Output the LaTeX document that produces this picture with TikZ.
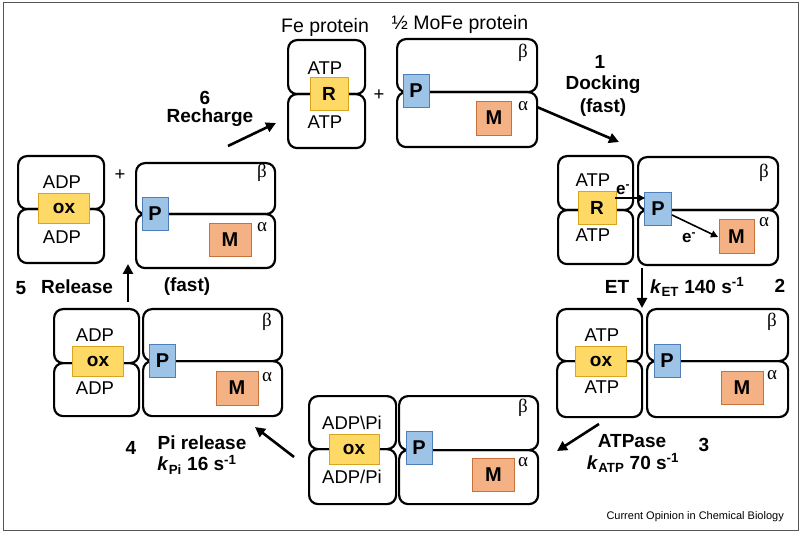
\documentclass[tikz,border=0pt]{standalone}
\usepackage{fontspec}
\setmainfont{Liberation Sans}
\newfontfamily\greekfont{Liberation Serif}
\usetikzlibrary{arrows.meta}
\definecolor{yfill}{HTML}{FFD966}
\definecolor{ydraw}{HTML}{D9A520}
\definecolor{bfill}{HTML}{9DC3E6}
\definecolor{bdraw}{HTML}{4F7FB8}
\definecolor{ofill}{HTML}{F4B183}
\definecolor{odraw}{HTML}{C8703A}
\definecolor{framegray}{HTML}{555555}
\newcommand\protbox[5]{\node[half,minimum width=#4pt,minimum height=#5pt] (#1) at (#2,#3) {};}
\newcommand\cofac[7]{\node[#2,minimum width=#5pt,minimum height=#6pt] (#1) at (#3,#4) {#7};}
\begin{document}
\begin{tikzpicture}[x=1pt,y=-1pt,
  half/.style={draw,line width=2.2pt,rounded corners=9pt,anchor=north west,inner sep=0pt},
  ybox/.style={draw=ydraw,fill=yfill,line width=0.9pt,inner sep=0pt,font=\fontsize{19}{20}\selectfont\bfseries},
  bbox/.style={draw=bdraw,fill=bfill,line width=0.9pt,inner sep=0pt,font=\fontsize{20}{20}\selectfont\bfseries},
  obox/.style={draw=odraw,fill=ofill,line width=0.9pt,inner sep=0pt,font=\fontsize{20}{20}\selectfont\bfseries},
  lab/.style={inner sep=0pt,font=\fontsize{18.5}{20}\selectfont},
  tlab/.style={inner sep=0pt,font=\fontsize{19.5}{21}\selectfont},
  blab/.style={inner sep=0pt,font=\fontsize{19}{21}\selectfont\bfseries},
  glab/.style={inner sep=0pt,font=\fontsize{19}{20}\selectfont\greekfont},
  bigarrow/.style={line width=2.6pt,-{Triangle[length=10pt,width=10pt]}},
  earrow/.style={line width=1.6pt,-{Triangle[length=7pt,width=7pt]}}]
\useasboundingbox (0,0) rectangle (800,534);
\node[draw=framegray,line width=1.4pt,minimum width=795pt,minimum height=528pt,anchor=north west,inner sep=0pt] (frame) at (3,2) {};

% ---------- top complex (Fe protein + 1/2 MoFe) ----------
\node[tlab] (tFe) at (325,27) {Fe protein};
\node[tlab] (tMo) at (460,24) {½ MoFe protein};
\protbox{aFeU}{287}{39}{77}{54}
\protbox{aFeL}{287}{93}{77}{54}
\node[lab] (aT1) at (325,68) {ATP};
\node[lab] (aT2) at (325,122) {ATP};
\cofac{aR}{ybox}{329}{94}{38}{33}{R}
\node[lab] (aplus) at (379,95) {+};
\protbox{aMoU}{396}{38}{140}{53}
\protbox{aMoL}{396}{91}{140}{55}
\cofac{aP}{bbox}{416}{91}{26}{33}{P}
\cofac{aM}{obox}{494}{118}{35}{34}{M}
\node[glab] (ab) at (523,53) {β};
\node[glab] (aa) at (523,106) {α};

% ---------- docking complex ----------
\protbox{bFeU}{557}{155}{75}{54}
\protbox{bFeL}{557}{209}{75}{54}
\node[lab] (bT1) at (593,180) {ATP};
\node[lab] (bT2) at (593,235) {ATP};
\cofac{bR}{ybox}{597}{208}{38}{33}{R}
\protbox{bMoU}{637}{156}{140}{53}
\protbox{bMoL}{637}{209}{140}{55}
\cofac{bP}{bbox}{658}{209}{27}{33}{P}
\cofac{bM}{obox}{736.5}{236.5}{35}{34}{M}
\node[glab] (bb) at (764,173) {β};
\node[glab] (ba) at (764,222) {α};
\coordinate (e1s) at (615,198);
\coordinate (e1e) at (645,198);
\coordinate (e2s) at (672,215);
\coordinate (e2e) at (718,237);
\draw[earrow] (e1s) -- (e1e);
\draw[earrow] (e2s) -- (e2e);
\node[blab,font=\fontsize{17}{18}\selectfont\bfseries] (e1l) at (623,190) {e\textsuperscript{-}};
\node[blab,font=\fontsize{17}{18}\selectfont\bfseries] (e2l) at (689,238) {e\textsuperscript{-}};

% ---------- left complex (after release) ----------
\protbox{cFeU}{17}{155}{86}{53}
\protbox{cFeL}{17}{208}{86}{54}
\node[lab] (cT1) at (62,182) {ADP};
\node[lab] (cT2) at (62,237) {ADP};
\cofac{cR}{ybox}{64}{208}{51}{30}{ox}
\node[lab] (cplus) at (120,175) {+};
\protbox{cMoU}{135}{162}{139}{51}
\protbox{cMoL}{135}{213}{139}{54}
\cofac{cP}{bbox}{155}{214}{26}{33}{P}
\cofac{cM}{obox}{230}{240}{42}{33}{M}
\node[glab] (cb) at (262,173) {β};
\node[glab] (ca) at (262,227) {α};

% ---------- middle-left complex ----------
\protbox{dFeU}{53}{308}{85}{54}
\protbox{dFeL}{53}{362}{85}{53}
\node[lab] (dT1) at (95,335) {ADP};
\node[lab] (dT2) at (95,388) {ADP};
\cofac{dR}{ybox}{98}{361}{51}{30}{ox}
\protbox{dMoU}{142}{308}{139}{52}
\protbox{dMoL}{142}{360}{139}{55}
\cofac{dP}{bbox}{162.5}{361}{26}{33}{P}
\cofac{dM}{obox}{237}{388}{42}{34}{M}
\node[glab] (db) at (267,322) {β};
\node[glab] (da) at (267,377) {α};

% ---------- right-middle complex ----------
\protbox{eFeU}{556}{308}{85}{52}
\protbox{eFeL}{556}{360}{85}{56}
\node[lab] (eT1) at (602,335) {ATP};
\node[lab] (eT2) at (602,387) {ATP};
\cofac{eR}{ybox}{601}{361}{51}{30}{ox}
\protbox{eMoU}{646}{308}{141}{52}
\protbox{eMoL}{646}{360}{141}{56}
\cofac{eP}{bbox}{667}{361}{26}{33}{P}
\cofac{eM}{obox}{742}{388}{42}{33}{M}
\node[glab] (eb) at (772,322) {β};
\node[glab] (ea) at (772,375) {α};

% ---------- bottom complex ----------
\protbox{fFeU}{308}{395}{87}{53}
\protbox{fFeL}{308}{448}{87}{55}
\node[lab] (fT1) at (352,423) {ADP\textbackslash Pi};
\node[lab] (fT2) at (352,477) {ADP/Pi};
\cofac{fR}{ybox}{354}{449}{50}{30}{ox}
\protbox{fMoU}{398}{395}{139}{54}
\protbox{fMoL}{398}{449}{139}{54}
\cofac{fP}{bbox}{419}{448}{26}{33}{P}
\cofac{fM}{obox}{493.5}{475}{42}{33}{M}
\node[glab] (fb) at (523,408) {β};
\node[glab] (fa) at (523,462) {α};

% ---------- step arrows ----------
\coordinate (s6a) at (228,146); \coordinate (s6b) at (276,123);
\coordinate (s1a) at (537,107); \coordinate (s1b) at (619,142);
\coordinate (s2a) at (642,268); \coordinate (s2b) at (642,308);
\coordinate (s3a) at (599,424); \coordinate (s3b) at (557,451);
\coordinate (s4a) at (294,457); \coordinate (s4b) at (255,427);
\coordinate (s5a) at (128,302); \coordinate (s5b) at (128,264);
\draw[bigarrow] (s6a) -- (s6b);
\draw[bigarrow] (s1a) -- (s1b);
\draw[bigarrow] (s2a) -- (s2b);
\draw[bigarrow] (s3a) -- (s3b);
\draw[bigarrow] (s4a) -- (s4b);
\draw[bigarrow] (s5a) -- (s5b);

% ---------- step labels ----------
\node[blab] (n6) at (205,98) {6};
\node[blab] (l6) at (210,118) {Recharge};
\node[blab] (n1) at (600,62) {1};
\node[blab] (l1) at (603,85) {Docking};
\node[blab] (l1b) at (603,108) {(fast)};
\node[blab] (l2a) at (617,287) {ET};
\node[blab,anchor=west] (l2b) at (650,287) {\textit{k}\textsubscript{ET} 140 s\textsuperscript{-1}};
\node[blab] (n2) at (780,286) {2};
\node[blab] (l3a) at (632,441) {ATPase};
\node[blab] (l3b) at (633,463) {\textit{k}\textsubscript{ATP} 70 s\textsuperscript{-1}};
\node[blab] (n3) at (704,445) {3};
\node[blab] (n4) at (131,448) {4};
\node[blab] (l4a) at (202,443) {Pi release};
\node[blab] (l4b) at (197,465) {\textit{k}\textsubscript{Pi} 16 s\textsuperscript{-1}};
\node[blab] (n5) at (21,288) {5};
\node[blab] (l5a) at (77,287) {Release};
\node[blab] (l5b) at (187,287) {(fast)};
\node[inner sep=0pt,anchor=east,font=\fontsize{11}{12}\selectfont] (credit) at (784,517) {Current Opinion in Chemical Biology};
\end{tikzpicture}
\end{document}
